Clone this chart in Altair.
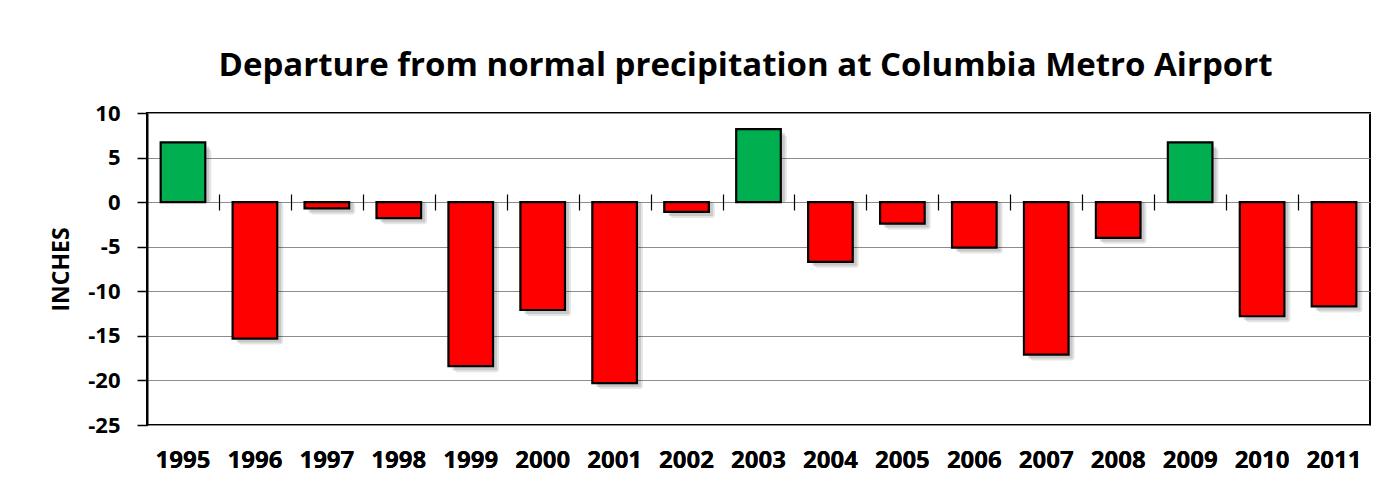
import altair as alt
import pandas as pd

years = ["1995", "1996", "1997", "1998", "1999", "2000", "2001", "2002", "2003",
         "2004", "2005", "2006", "2007", "2008", "2009", "2010", "2011"]
departure = [6.7, -15.3, -0.7, -1.8, -18.4, -12.1, -20.3, -1.1, 8.2,
             -6.7, -2.4, -5.1, -17.1, -4.0, 6.7, -12.8, -11.7]
y_ticks = [10, 5, 0, -5, -10, -15, -20, -25]
boundary_ticks = years[:-1]

df = pd.DataFrame({"year": years, "value": departure})

FONT = "Open Sans"

x_scale = alt.Scale(paddingInner=0.38, paddingOuter=0.19)

x_enc_bottom = alt.X(
    "year:N", sort=years, scale=x_scale,
    axis=alt.Axis(orient="bottom", title=None, labelAngle=0, ticks=False, domain=False,
                  labelFont=FONT, labelFontSize=24, labelFontWeight="bold",
                  labelColor="#000000", labelPadding=23),
)
x_enc_top = alt.X(
    "year:N", sort=years, scale=x_scale,
    axis=alt.Axis(orient="top", title=None, labels=False, domain=False, ticks=True,
                  values=boundary_ticks, tickOffset=36, tickSize=16,
                  tickColor="#000000", tickWidth=1.2, offset=-97),
)
y_enc = alt.Y(
    "value:Q",
    scale=alt.Scale(domain=[-25, 10], nice=False),
    axis=alt.Axis(values=y_ticks, title="INCHES", titleFont=FONT, titleFontSize=23,
                  titleFontWeight="bold", titleColor="#000000", titlePadding=14,
                  labelFont=FONT, labelFontSize=22, labelFontWeight="bold",
                  labelColor="#000000", labelPadding=17, tickSize=10,
                  labelExpr="datum.value + ''",
                  tickColor="#000000", tickWidth=1.5, domainColor="#000000",
                  domainWidth=2, grid=True, gridColor="#8c8c8c", gridWidth=1.2),
)

shadow1 = alt.Chart(df).mark_bar(color="#000000", opacity=0.10, xOffset=6, yOffset=6,
                                 cornerRadius=3).encode(
    x=x_enc_top, y=y_enc, y2=alt.datum(0)
)
shadow2 = alt.Chart(df).mark_bar(color="#000000", opacity=0.12, xOffset=4, yOffset=4).encode(
    x=x_enc_bottom, y=y_enc, y2=alt.datum(0)
)
bars = alt.Chart(df).mark_bar(stroke="#000000", strokeWidth=2.2).encode(
    x=x_enc_bottom, y=y_enc, y2=alt.datum(0),
    color=alt.condition(alt.datum.value > 0, alt.value("#00B050"), alt.value("#FF0000")),
)

chart = (
    alt.layer(shadow2, shadow1, bars)
    .resolve_axis(x="independent")
    .properties(
        width=1223, height=312,
        autosize=alt.AutoSizeParams(type="none"),
        padding={"left": 139, "top": 105, "right": 11, "bottom": 56},
        background="#ffffff",
        title=alt.TitleParams(
            "Departure from normal precipitation at Columbia Metro Airport",
            font=FONT, fontSize=33, fontWeight="bold", color="#000000",
            anchor="middle", frame="group", offset=19, dx=-13,
        ),
    )
    .configure_view(stroke="#000000", strokeWidth=2)
)

chart.save("out.html", embed_options={"renderer": "svg", "actions": False})
